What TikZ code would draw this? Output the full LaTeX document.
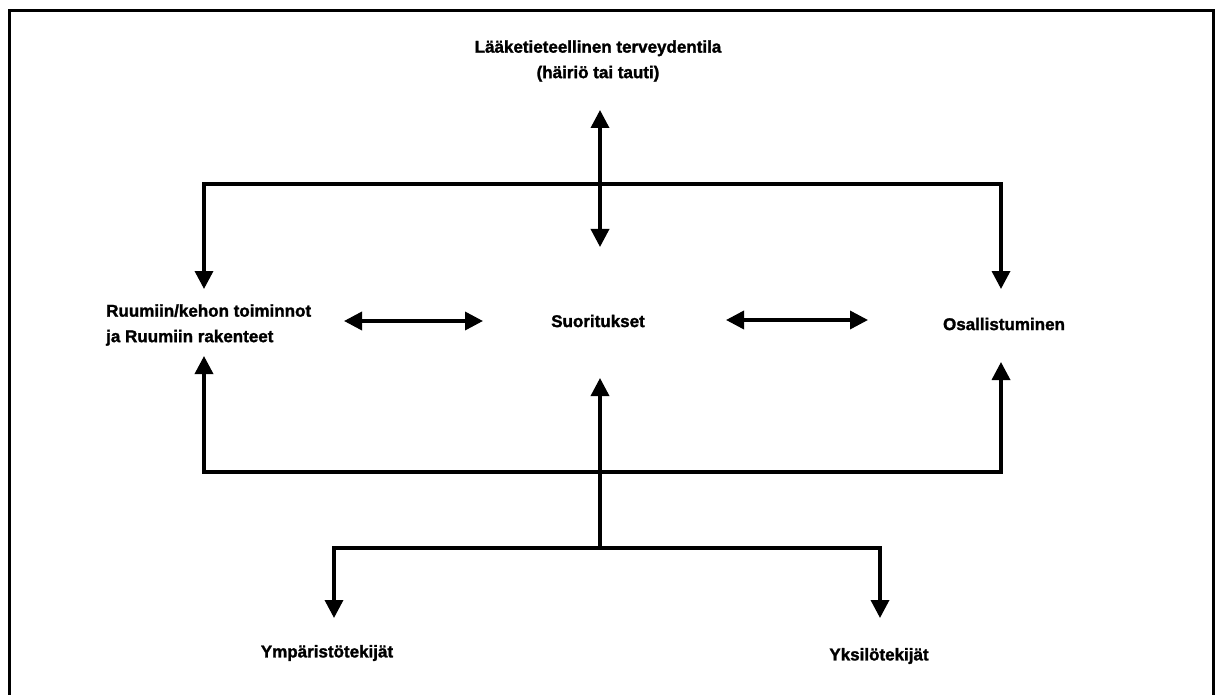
\documentclass[tikz,border=0pt]{standalone}
\usepackage{fontspec}
\setmainfont{Liberation Sans}[BoldFeatures={FakeBold=1.6}]
\usetikzlibrary{arrows.meta}
\begin{document}
\begin{tikzpicture}[x=1pt,y=-1pt,
  lbl/.style={font=\fontsize{17}{25.5}\selectfont\bfseries, inner sep=0pt},
  conn/.style={line width=3.5pt, line join=miter},
  >={Triangle[width=18pt,length=18pt]}]
\useasboundingbox (0,0) rectangle (1221,695);
\fill[white] (0,0) rectangle (1221,695);
% frame
\draw[line width=3.5pt] (9.5,695) -- (9.5,10.5) -- (1213.5,10.5) -- (1213.5,695);

% nodes
\node[lbl, align=center] (med) at (598,61) {Lääketieteellinen terveydentila\\(häiriö tai tauti)};
\node[lbl, align=left, anchor=west] (body) at (106,325) {Ruumiin/kehon toiminnot\\ja Ruumiin rakenteet};
\node[lbl] (act) at (598,321) {Suoritukset};
\node[lbl] (part) at (1004,324) {Osallistuminen};
\node[lbl] (env) at (327,653) {Ympäristötekijät};
\node[lbl] (pers) at (879,656) {Yksilötekijät};

% connector end points
\coordinate (medTip) at (600,110);
\coordinate (actTop) at (600,247);
\coordinate (bodyTop) at (204,289);
\coordinate (partTop) at (1001,289);
\coordinate (topL) at (204,184);
\coordinate (topR) at (1001,184);
\coordinate (bodyBot) at (204,356);
\coordinate (partBot) at (1001,362);
\coordinate (botL) at (204,472);
\coordinate (botR) at (1001,472);
\coordinate (bodyR) at (344,321);
\coordinate (actL) at (483,321);
\coordinate (actR) at (726,320);
\coordinate (partL) at (868,320);
\coordinate (actBot) at (600,378);
\coordinate (hub) at (600,548);
\coordinate (envL) at (334,548);
\coordinate (persR) at (880,548);
\coordinate (envTop) at (334,618);
\coordinate (persTop) at (880,618);

% connectors
\draw[conn, <->] (medTip) -- (actTop);
\draw[conn, <->] (bodyTop) -- (topL) -- (topR) -- (partTop);
\draw[conn, <->] (bodyR) -- (actL);
\draw[conn, <->] (actR) -- (partL);
\draw[conn, <->] (bodyBot) -- (botL) -- (botR) -- (partBot);
\draw[conn, ->] (hub) -- (actBot);
\draw[conn, <->] (envTop) -- (envL) -- (persR) -- (persTop);
\end{tikzpicture}
\end{document}
